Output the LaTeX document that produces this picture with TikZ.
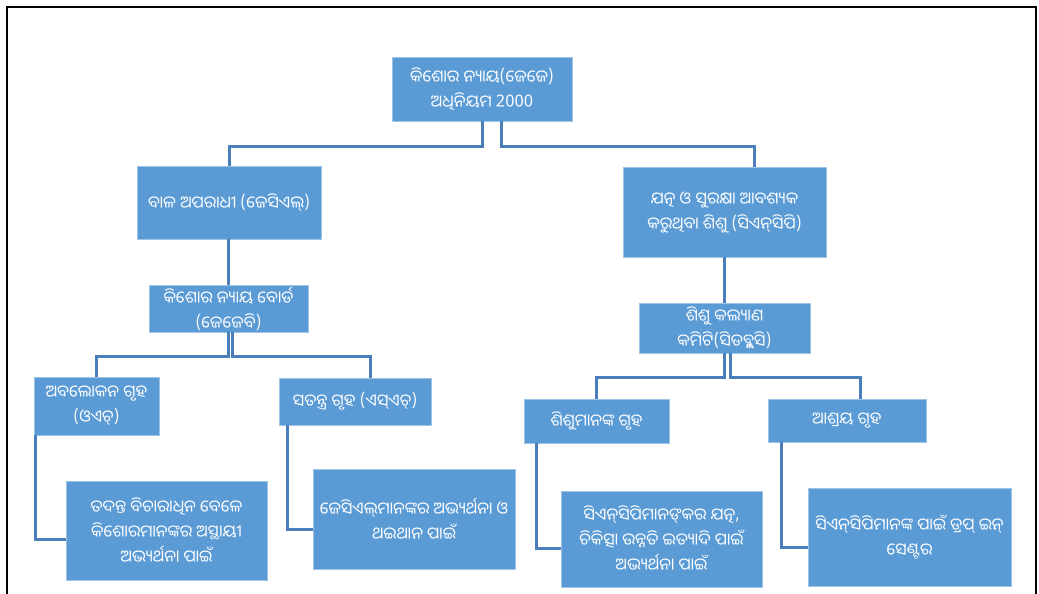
\documentclass[tikz,border=0pt]{standalone}
\usepackage{fontspec}
\newfontfamily\odia[Script=Oriya]{Noto Sans Oriya UI}
\definecolor{boxblue}{RGB}{91,155,213}
\definecolor{connblue}{RGB}{74,126,187}
\tikzset{
  box/.style={fill=boxblue, draw=boxblue!60!white, line width=0.5pt, text=white,
    align=center, inner sep=2pt, font=\odia\fontsize{16.5}{25}\selectfont},
  conn/.style={draw=connblue, line width=3pt},
}
\begin{document}
\begin{tikzpicture}[x=1pt,y=-1pt]
\useasboundingbox (0,0) rectangle (1039,594);
\begin{scope}
\clip (0,0) rectangle (1039,594);
\draw[black, line width=2.2pt] (7,620) -- (7,7) -- (1036,7) -- (1036,620);
\end{scope}

\node[box, minimum width=180pt, minimum height=64pt] (root) at (482,89) {କିଶୋର ନ୍ୟାୟ(ଜେଜେ)\\ଅଧିନିୟମ 2000};
\node[box, minimum width=184pt, minimum height=73pt] (L1) at (229,202.5) {ବାଳ ଅପରାଧୀ (ଜେସିଏଲ୍)};
\node[box, minimum width=159pt, minimum height=47pt, inner sep=0pt] (JJB) at (228.5,308.5) {କିଶୋର ନ୍ୟାୟ ବୋର୍ଡ\\(ଜେଜେବି)};
\node[box, minimum width=125pt, minimum height=58pt] (OH) at (96.5,406) {ଅବଲୋକନ ଗୃହ\\(ଓଏଚ୍)};
\node[box, minimum width=152pt, minimum height=47pt] (SH) at (355,401.5) {ସତନ୍ତ୍ର ଗୃହ (ଏସ୍ଏଚ୍)};
\node[box, minimum width=201pt, minimum height=99pt] (D1) at (166.5,530.5) {ତଦନ୍ତ ବିଚାରାଧିନ ବେଳେ\\କିଶୋରମାନଙ୍କର ଅସ୍ଥାୟୀ\\ଅଭ୍ୟର୍ଥନା ପାଇଁ};
\node[box, minimum width=202pt, minimum height=100pt] (D2) at (414,519) {ଜେସିଏଲ୍^^^^200cମାନଙ୍କର ଅଭ୍ୟର୍ଥନା ଓ\\ଥଇଥାନ ପାଇଁ};

\node[box, minimum width=203pt, minimum height=90pt] (R1) at (724.5,212) {ଯତ୍ନ ଓ ସୁରକ୍ଷା ଆବଶ୍ୟକ\\କରୁଥିବା ଶିଶୁ (ସିଏନ୍^^^^200cସିପି)};
\node[box, minimum width=171pt, minimum height=50pt, inner sep=0pt] (CWC) at (724.5,328) {ଶିଶୁ କଲ୍ୟାଣ\\କମିଟି(ସିଡବ୍ଲୁସି)};
\node[box, minimum width=145pt, minimum height=44pt] (CH) at (596.5,421) {ଶିଶୁମାନଙ୍କ ଗୃହ};
\node[box, minimum width=158pt, minimum height=43pt] (SHL) at (847,420.5) {ଆଶ୍ରୟ ଗୃହ};
\node[box, minimum width=201pt, minimum height=96pt] (D3) at (661.5,539) {ସିଏନ୍^^^^200cସିପିମାନଙ୍^^^^200cକର ଯତ୍ନ,\\ଚିକିତ୍ସା ଉନ୍ନତି ଇତ୍ୟାଦି ପାଇଁ\\ଅଭ୍ୟର୍ଥନା ପାଇଁ};
\node[box, minimum width=203pt, minimum height=98pt] (D4) at (909.5,537) {ସିଏନ୍^^^^200cସିପିମାନଙ୍କ ପାଇଁ ଡ୍ରପ୍ ଇନ୍\\ସେଣ୍ଟର};

% root to level 1
\draw[conn] (root.south) -- ++(0,25) -| (L1.north);
\draw[conn] ([xshift=19pt]root.south) -- ++(0,25) -| ([xshift=29.5pt]R1.north);
% level 1 to level 2
\draw[conn] ([xshift=-1pt]L1.south) -- ([xshift=-0.5pt]JJB.north);
\draw[conn] (R1.south) -- (CWC.north);
% JJB to homes
\draw[conn] ([xshift=-0.5pt]JJB.south) -- ++(0,24) -| (OH.north);
\draw[conn] ([xshift=3.5pt]JJB.south) -- ++(0,24) -| ([xshift=15pt]SH.north);
% CWC to homes
\draw[conn] ([xshift=-0.5pt]CWC.south) -- ++(0,24) -| (CH.north);
\draw[conn] ([xshift=5.5pt]CWC.south) -- ++(0,24) -| ([xshift=13pt]SHL.north);
% homes to descriptions
\draw[conn] ([xshift=1.5pt]OH.south west) |- ([yshift=-8.5pt]D1.west);
\draw[conn] ([xshift=9pt]SH.south west) |- ([yshift=-10pt]D2.west);
\draw[conn] ([xshift=13pt]CH.south west) |- ([yshift=-9pt]D3.west);
\draw[conn] ([xshift=14pt]SHL.south west) |- ([yshift=-10pt]D4.west);
\end{tikzpicture}
\end{document}
